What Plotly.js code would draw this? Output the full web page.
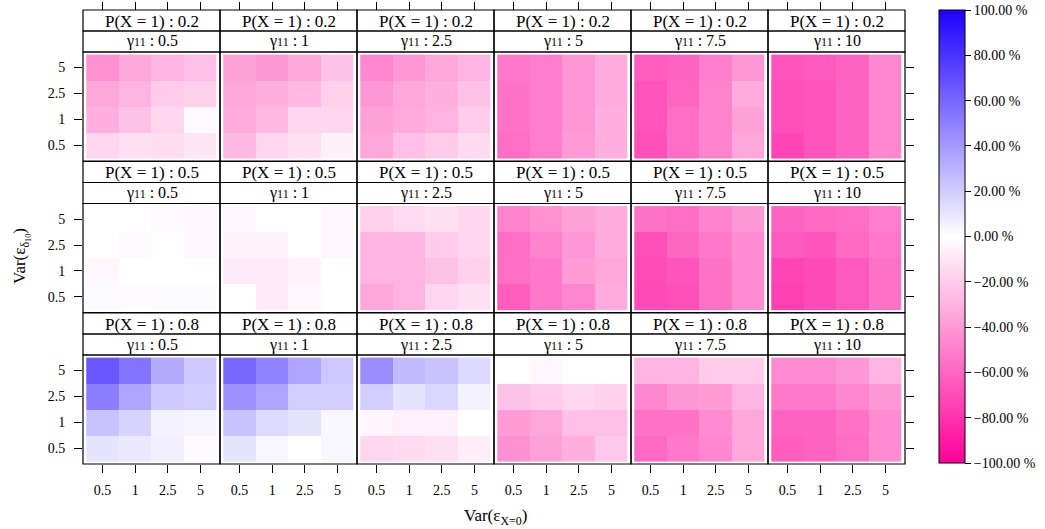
<!DOCTYPE html>
<html>
<head>
<meta charset="utf-8">
<script src="https://cdn.plot.ly/plotly-3.0.1.min.js"></script>
<style>
  html, body { margin: 0; padding: 0; background: #ffffff; }
  #chart { width: 1045px; height: 529px; }
</style>
</head>
<body>
<div id="chart"></div>
<script>
// Axis categories
const varX = ['0.5', '1', '2.5', '5'];          // Var(eps_{X=0}), horizontal
const varDelta = ['0.5', '1', '2.5', '5'];      // Var(eps_{delta10}), vertical
const probX1 = ['0.2', '0.5', '0.8'];           // panel rows
const gamma11 = ['0.5', '1', '2.5', '5', '7.5', '10']; // panel columns

// Relative difference (%) per panel, one 4x4 block per gamma11 value.
// Each block lists rows from Var(delta)=5 (top) down to 0.5 (bottom),
// columns Var(X=0) = 0.5, 1, 2.5, 5.
const relDiffP02 = [
  [[-43, -35, -30, -25], [-35, -30, -20, -18], [-31, -24, -16, -2], [-16, -12, -13, -10]],
  [[-37, -41, -35, -24], [-35, -31, -27, -18], [-33, -27, -16, -16], [-27, -16, -12, -6]],
  [[-47, -41, -35, -30], [-41, -35, -31, -24], [-37, -33, -30, -20], [-35, -25, -20, -14]],
  [[-53, -51, -41, -33], [-55, -51, -41, -33], [-55, -51, -41, -31], [-57, -51, -39, -31]],
  [[-63, -61, -51, -41], [-67, -60, -49, -33], [-67, -57, -49, -37], [-69, -57, -49, -35]],
  [[-67, -65, -61, -47], [-69, -67, -61, -47], [-69, -67, -61, -47], [-73, -67, -61, -47]]
];
const relDiffP05 = [
  [[0, 0, -2, -3], [0, -2, 0, -3], [-3, 0, 0, 0], [2, -2, 2, 2]],
  [[-3, 0, 0, -3], [-5, -5, 0, -3], [-8, -8, -5, 0], [0, -8, -3, 0]],
  [[-18, -14, -12, -16], [-30, -30, -20, -16], [-30, -30, -24, -18], [-35, -30, -16, -12]],
  [[-49, -43, -37, -33], [-57, -49, -41, -33], [-57, -53, -39, -35], [-63, -53, -47, -33]],
  [[-55, -57, -49, -41], [-69, -60, -53, -45], [-70, -67, -55, -45], [-71, -69, -55, -45]],
  [[-61, -59, -57, -51], [-65, -67, -59, -53], [-73, -71, -65, -55], [-75, -71, -65, -55]]
];
const relDiffP08 = [
  [[66, 55, 33, 22], [51, 35, 22, 20], [24, 17, 5, 4], [11, 9, 6, -2]],
  [[59, 49, 35, 22], [43, 35, 20, 20], [24, 14, 11, 3], [11, 3, 0, 3]],
  [[45, 27, 24, 15], [20, 11, 16, 5], [-4, -6, -6, 0], [-16, -14, -12, -7]],
  [[0, -3, 0, 0], [-24, -20, -16, -18], [-39, -35, -25, -25], [-43, -37, -31, -22]],
  [[-30, -30, -20, -20], [-47, -41, -39, -30], [-55, -55, -45, -35], [-59, -53, -47, -35]],
  [[-45, -45, -41, -30], [-53, -53, -47, -41], [-61, -61, -55, -45], [-63, -61, -57, -45]]
];
const colorTicks = [100, 80, 60, 40, 20, 0, -20, -40, -60, -80, -100];

// ---- page geometry (pixels) ----
const W = 1045, H = 529;
const panelLeft0 = 83, panelW = 137;
const stripTop0 = 10, stripH = 21, panelH = 109, rowPitch = 151.5;
const px = v => v / W;
const py = v => 1 - v / H;

const blocks = [relDiffP02, relDiffP05, relDiffP08];
const idx = [1, 2, 3, 4];
const colorscale = [[0, 'rgb(255,0,153)'], [0.5, 'rgb(255,255,255)'], [1, 'rgb(30,0,255)']];
const fontFam = 'Liberation Serif, Times New Roman, serif';

const traces = [];
const layout = {
  width: W, height: H, autosize: false,
  margin: { l: 0, r: 0, t: 0, b: 0, pad: 0 },
  paper_bgcolor: '#ffffff', plot_bgcolor: '#ffffff',
  font: { family: fontFam, color: '#000000', size: 14 },
  showlegend: false,
  shapes: [], annotations: []
};

for (let r = 0; r < 3; r++) {
  const stripTop = stripTop0 + r * rowPitch;
  const panTop = stripTop + 2 * stripH;
  const panBot = panTop + panelH;
  for (let c = 0; c < 6; c++) {
    const k = r * 6 + c + 1;
    const xa = 'x' + k, ya = 'y' + k;
    const left = panelLeft0 + c * panelW, right = left + panelW;

    traces.push({
      type: 'heatmap',
      x: idx, y: idx,
      z: blocks[r][c].slice().reverse(),
      xaxis: xa, yaxis: ya,
      colorscale: colorscale, zmin: -100, zmax: 100,
      zsmooth: false, hoverinfo: 'skip',
      showscale: k === 1,
      colorbar: {
        x: px(939), xanchor: 'left', y: py(10), yanchor: 'top',
        len: 453 / H, lenmode: 'fraction',
        thickness: 26, thicknessmode: 'pixels',
        xpad: 0, ypad: 0,
        outlinewidth: 1, outlinecolor: '#000000',
        ticks: 'outside', ticklen: 6, tickcolor: '#000000', tickwidth: 1,
        tickvals: colorTicks,
        ticktext: colorTicks.map(v => v.toFixed(2).replace('-', '\u2212') + ' %'),
        tickfont: { size: 14, family: fontFam, color: '#000000' }
      }
    });

    const xAxis = {
      domain: [px(left), px(right)],
      range: [0.4, 4.6], fixedrange: true,
      showgrid: false, zeroline: false, showline: false,
      tickvals: idx, ticktext: varX,
      ticks: '', showticklabels: false,
      tickcolor: '#000000', ticklen: 8, tickwidth: 1,
      tickfont: { size: 14, family: fontFam },
      anchor: ya
    };
    if (r === 0) {
      Object.assign(xAxis, { anchor: 'free', position: py(stripTop0), side: 'top', ticks: 'outside' });
    } else if (r === 2) {
      Object.assign(xAxis, { side: 'bottom', ticks: 'outside', showticklabels: true, ticklabelstandoff: 5 });
    }
    const yAxis = {
      domain: [py(panBot), py(panTop)],
      range: [0.4, 4.6], fixedrange: true,
      showgrid: false, zeroline: false, showline: false,
      tickvals: idx, ticktext: varDelta,
      ticks: '', showticklabels: false,
      tickcolor: '#000000', ticklen: 8, tickwidth: 1,
      tickfont: { size: 14, family: fontFam },
      anchor: xa
    };
    if (c === 0) {
      Object.assign(yAxis, { side: 'left', ticks: 'outside', showticklabels: true, ticklabelstandoff: 6 });
    } else if (c === 5) {
      Object.assign(yAxis, { side: 'right', ticks: 'outside' });
    }
    layout['xaxis' + k] = xAxis;
    layout['yaxis' + k] = yAxis;

    // strips and panel frame
    const rects = [
      [stripTop, stripTop + stripH],
      [stripTop + stripH, panTop],
      [panTop, panBot]
    ];
    rects.forEach(([t, b]) => {
      layout.shapes.push({
        type: 'rect', xref: 'paper', yref: 'paper', layer: 'above',
        x0: px(left), x1: px(right), y0: py(b), y1: py(t),
        line: { color: '#000000', width: 1.2 }, fillcolor: 'rgba(0,0,0,0)'
      });
    });
    layout.annotations.push({
      xref: 'paper', yref: 'paper', showarrow: false,
      x: px((left + right) / 2), y: py(stripTop + stripH / 2 + 0.5),
      xanchor: 'center', yanchor: 'middle',
      text: 'P(X = 1) : ' + probX1[r],
      font: { size: 17, family: fontFam, color: '#000000' }
    });
    layout.annotations.push({
      xref: 'paper', yref: 'paper', showarrow: false,
      x: px((left + right) / 2), y: py(stripTop + stripH * 1.5),
      xanchor: 'center', yanchor: 'middle',
      text: '\u03B3<span style="font-size:12px">11</span> : ' + gamma11[c],
      font: { size: 16, family: fontFam, color: '#000000' }
    });
  }
}

// overall axis titles
layout.annotations.push({
  xref: 'paper', yref: 'paper', showarrow: false,
  x: px(495), y: py(517), xanchor: 'center', yanchor: 'middle',
  text: 'Var(\u03B5<sub>X=0</sub>)',
  font: { size: 17, family: fontFam, color: '#000000' }
});
layout.annotations.push({
  xref: 'paper', yref: 'paper', showarrow: false,
  x: px(22), y: py(256), xanchor: 'center', yanchor: 'middle', textangle: -90,
  text: 'Var(\u03B5<sub>\u03B4<sub>10</sub></sub>)',
  font: { size: 17, family: fontFam, color: '#000000' }
});

Plotly.newPlot('chart', traces, layout, { staticPlot: true, displayModeBar: false });
</script>
</body>
</html>
